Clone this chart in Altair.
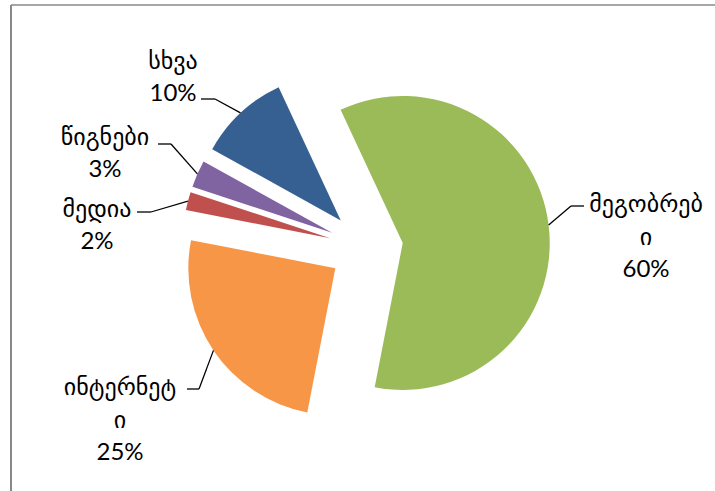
import math
import altair as alt
import pandas as pd

# ---- data ----
categories = ["მეგობრები", "ინტერნეტი", "მედია", "წიგნები", "სხვა"]
label_text = ["მეგობრებ\nი", "ინტერნეტ\nი", "მედია", "წიგნები", "სხვა"]
values = [60, 25, 2, 3, 10]
colors = ["#9BBB59", "#F79646", "#C0504D", "#8064A2", "#366092"]

# ---- layout (pixels, relative to pie centre) ----
CX, CY = 366, 247.5
RADIUS = 147
EXPLODE = 37
START = math.radians(335)
LINE_H = 32.5
LABEL_SHIFT = 2
label_dx = [280, -246, -269, -261, -193]
label_dy = [-12, 171, -23.75, -95.75, -171.75]
touch_dx = [218, -179, -229, -208, -165]
touch_dy = [-41.5, 141.5, -35.5, -103.5, -148.5]
elbow_len = [-13, 12, 14, 13, 14]

df = pd.DataFrame({
    "category": categories,
    "label": label_text,
    "value": values,
    "order": list(range(len(categories))),
    "ldx": label_dx, "ldy": label_dy,
    "tdx": touch_dx, "tdy": touch_dy, "el": elbow_len,
})

base = alt.Chart(df).transform_joinaggregate(
    total="sum(value)"
).transform_window(
    cum="sum(value)", sort=[alt.SortField("order")], frame=[None, 0]
).transform_calculate(
    a0=f"{START} + 2*PI*(datum.cum - datum.value)/datum.total",
    a1=f"{START} + 2*PI*datum.cum/datum.total",
    txt="datum.label + '\\n' + round(100*datum.value/datum.total) + '%'",
).transform_calculate(
    mid="(datum.a0 + datum.a1)/2",
    nlines="length(split(datum.txt, '\\n'))",
).transform_calculate(
    cx=f"{CX} + {EXPLODE}*sin(datum.mid)",
    cy=f"{CY} - {EXPLODE}*cos(datum.mid)",
).transform_calculate(
    px=f"datum.cx + {RADIUS}*sin(datum.mid)",
    py=f"datum.cy - {RADIUS}*cos(datum.mid)",
    tx=f"{CX} + datum.tdx",
    ty=f"{CY} + datum.tdy",
    ex=f"{CX} + datum.tdx + datum.el",
    lx=f"{CX} + datum.ldx",
    ly=f"{CY} + datum.ldy + {LABEL_SHIFT} - (datum.nlines - 1)*{LINE_H}/2",
)

arcs = base.mark_arc(radius=RADIUS, stroke=None).encode(
    theta=alt.Theta("a0:Q", scale=None, stack=None),
    theta2="a1:Q",
    x=alt.X("cx:Q", scale=None),
    y=alt.Y("cy:Q", scale=None),
    color=alt.Color("category:N", scale=alt.Scale(domain=categories, range=colors), legend=None),
)

leader1 = base.mark_rule(color="black", strokeWidth=1.3).encode(
    x=alt.X("px:Q", scale=None), y=alt.Y("py:Q", scale=None),
    x2="ex:Q", y2="ty:Q",
)
leader2 = base.mark_rule(color="black", strokeWidth=1.3).encode(
    x=alt.X("ex:Q", scale=None), y=alt.Y("ty:Q", scale=None),
    x2="tx:Q", y2="ty:Q",
)

labels = base.mark_text(
    lineBreak="\n", align="center", baseline="middle",
    fontSize=24, font="Lato, DejaVu Sans", lineHeight=LINE_H, color="black",
).encode(
    x=alt.X("lx:Q", scale=None), y=alt.Y("ly:Q", scale=None), text="txt:N",
)

frame_df = pd.DataFrame({"k": [0]})
frame_top = alt.Chart(frame_df).mark_rule(color="#888888", strokeWidth=1.5).encode(
    x=alt.value(11), x2=alt.value(715), y=alt.value(5)
)
frame_left = alt.Chart(frame_df).mark_rule(color="#888888", strokeWidth=2).encode(
    x=alt.value(11), y=alt.value(5), y2=alt.value(491)
)

chart = alt.layer(frame_top, frame_left, arcs, leader1, leader2, labels).properties(
    width=715, height=491, padding=0, autosize=alt.AutoSizeParams(type="none"),
    background="white",
).configure_view(stroke=None)

chart.save("out.html", embed_options={"renderer": "svg", "actions": False})
